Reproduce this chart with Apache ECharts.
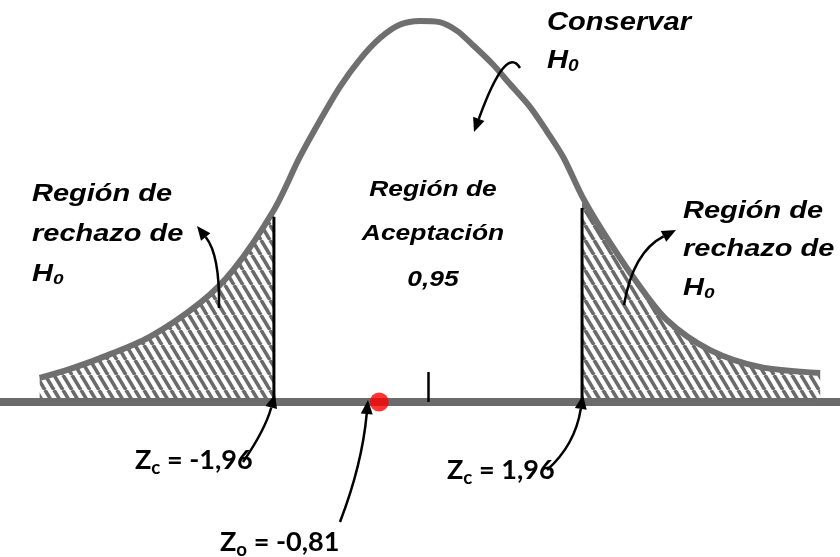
<!DOCTYPE html>
<html lang="es">
<head>
<meta charset="UTF-8">
<script src="https://cdn.jsdelivr.net/npm/echarts@6/dist/echarts.min.js"></script>
<style>
  html, body { margin: 0; padding: 0; background: #fff; }
  #chart { width: 840px; height: 557px; }
</style>
</head>
<body>
<div id="chart"></div>
<script>
// curva dibujada (z, altura relativa al pico)
var zCurve = [-4.94, -4.55, -4.17, -3.54, -2.90, -2.48, -1.96, -1.63, -1.37, -1.12, -0.87, -0.61, -0.36, -0.10,
              0.15, 0.37, 0.57, 0.83, 1.04, 1.30, 1.51, 1.72, 1.96, 2.19, 2.61, 3.04, 3.59, 4.22, 4.99];
var hCurve = [0.063, 0.087, 0.115, 0.171, 0.260, 0.346, 0.504, 0.643, 0.740, 0.827, 0.898, 0.955, 0.990, 1.000,
              0.997, 0.974, 0.937, 0.885, 0.835, 0.774, 0.711, 0.643, 0.540, 0.459, 0.328, 0.215, 0.136, 0.092, 0.076];
var zCrit = [-1.96, 1.96];
var critTop = [0.486, 0.509];
var zObs = [-0.62];
var zeroTick = [0];

var curve = zCurve.map(function (z, i) { return [z, hCurve[i]]; });
var leftTail = curve.filter(function (p) { return p[0] <= zCrit[0]; });
var rightTail = curve.filter(function (p) { return p[0] >= zCrit[1]; });

// rayado
var hatch = document.createElement('canvas');
hatch.width = 9; hatch.height = 15;
var hc = hatch.getContext('2d');
hc.strokeStyle = '#6a6a6a';
hc.lineWidth = 3.6;
[-9, 0, 9].forEach(function (x0) {
  hc.beginPath(); hc.moveTo(x0, 0); hc.lineTo(x0 + 9, 15); hc.stroke();
});

var measure = document.createElement('canvas').getContext('2d');
var ARIAL = 'italic bold {s}px "Liberation Sans", Arial, sans-serif';
var CALI = 'bold {s}px Lato, "Open Sans", sans-serif';

// texto con piezas (para subindices)
function pieces(x, base, parts, sx) {
  var out = [];
  parts.forEach(function (p) {
    var font = p.f.replace('{s}', p.s);
    measure.font = font;
    out.push({ type: 'text', x: x, y: base + (p.dy || 0) - 0.35 * p.s, scaleX: sx, z: 20,
      style: { text: p.t, font: font, fill: '#000', verticalAlign: 'middle', align: 'left' } });
    x += measure.measureText(p.t).width * sx;
  });
  return out;
}
function line(x, base, t, size, sx, align) {
  return { type: 'text', x: x, y: base - 0.35 * size, scaleX: sx, z: 20,
    style: { text: t, font: ARIAL.replace('{s}', size), fill: '#000', verticalAlign: 'middle', align: align || 'left' } };
}
function h0(x, base, size, sx) {
  return pieces(x, base, [{ t: 'H', f: ARIAL, s: size }, { t: '0', f: ARIAL, s: Math.round(size * 0.65), dy: 2 }], sx);
}
function zlab(x, base, sub, rest) {
  return pieces(x, base, [{ t: 'Z', f: CALI, s: 26 }, { t: sub, f: CALI, s: 18, dy: 4 }, { t: rest, f: CALI, s: 26 }], 1.04);
}
function arrow(p0, c, p1) {
  var dx = p1[0] - c[0], dy = p1[1] - c[1], L = Math.hypot(dx, dy);
  var ux = dx / L, uy = dy / L, len = 14, w = 6;
  var b = [p1[0] - ux * len, p1[1] - uy * len];
  return [
    { type: 'bezierCurve', z: 20, shape: { x1: p0[0], y1: p0[1], x2: b[0], y2: b[1], cpx1: c[0], cpy1: c[1] },
      style: { stroke: '#000', lineWidth: 2.5, fill: 'none' } },
    { type: 'polygon', z: 20, shape: { points: [p1, [b[0] - uy * w, b[1] + ux * w], [b[0] + uy * w, b[1] - ux * w]] },
      style: { fill: '#000' } }
  ];
}

var graphics = [].concat(
  [line(547, 32, 'Conservar', 26, 1.12)], h0(547, 70, 26, 1.12),
  [line(433, 198, 'Región de', 22, 1.2, 'center'), line(433, 242, 'Aceptación', 22, 1.2, 'center'),
   line(433, 288, '0,95', 22, 1.2, 'center')],
  [line(32, 203, 'Región de', 23, 1.26), line(32, 243, 'rechazo de', 23, 1.26)], h0(32, 283, 23, 1.26),
  [line(683, 220, 'Región de', 23, 1.26), line(683, 258, 'rechazo de', 23, 1.26)], h0(683, 297, 23, 1.26),
  zlab(135, 470, 'c', ' = -1,96'), zlab(447, 480, 'c', ' = 1,96'), zlab(220, 552, 'o', ' = -0,81'),
  arrow([520, 68], [506, 44], [474, 132]),
  arrow([219, 308], [220, 255], [197, 226]),
  arrow([624, 305], [633, 252], [676, 230]),
  arrow([243, 462], [265, 430], [275, 394]),
  arrow([547, 470], [575, 445], [583, 395]),
  arrow([340, 522], [362, 465], [368, 400])
);

var chart = echarts.init(document.getElementById('chart'));
var series = [
  { type: 'line', data: leftTail, smooth: 0.3, showSymbol: false, lineStyle: { width: 0 },
    areaStyle: { color: { image: hatch, repeat: 'repeat' }, opacity: 1 }, z: 2 },
  { type: 'line', data: rightTail, smooth: 0.3, showSymbol: false, lineStyle: { width: 0 },
    areaStyle: { color: { image: hatch, repeat: 'repeat' }, opacity: 1 }, z: 2 },
  { type: 'line', data: curve, smooth: 0.3, showSymbol: false, lineStyle: { color: '#6f6f6f', width: 6 }, z: 3 }
];
zCrit.forEach(function (z, i) {
  series.push({ type: 'line', data: [[z, 0], [z, critTop[i]]], showSymbol: false,
    lineStyle: { color: '#000', width: 3 }, z: 4 });
});
series.push({ type: 'scatter', data: zObs.map(function (z) { return [z, 0]; }), symbolSize: 19,
  itemStyle: { color: '#ff0000' }, z: 5 });

chart.setOption({
  animation: false,
  backgroundColor: '#fff',
  grid: { left: 0, right: 0, top: 0, bottom: 0, outerBoundsMode: 'none', containLabel: false },
  xAxis: {
    type: 'value', min: -5.445, max: 5.242,
    splitLine: { show: false },
    axisLine: { onZero: true, lineStyle: { color: '#6b6b6b', width: 8 } },
    axisTick: { show: true, inside: true, length: 30, customValues: zeroTick, lineStyle: { color: '#000', width: 2.5 } },
    axisLabel: { show: true, customValues: zeroTick, margin: 8, fontSize: 22, color: '#111',
      fontFamily: 'Liberation Sans' }
  },
  yAxis: { type: 'value', min: -0.407, max: 1.055, show: false },
  series: series,
  graphic: graphics
});
</script>
</body>
</html>
